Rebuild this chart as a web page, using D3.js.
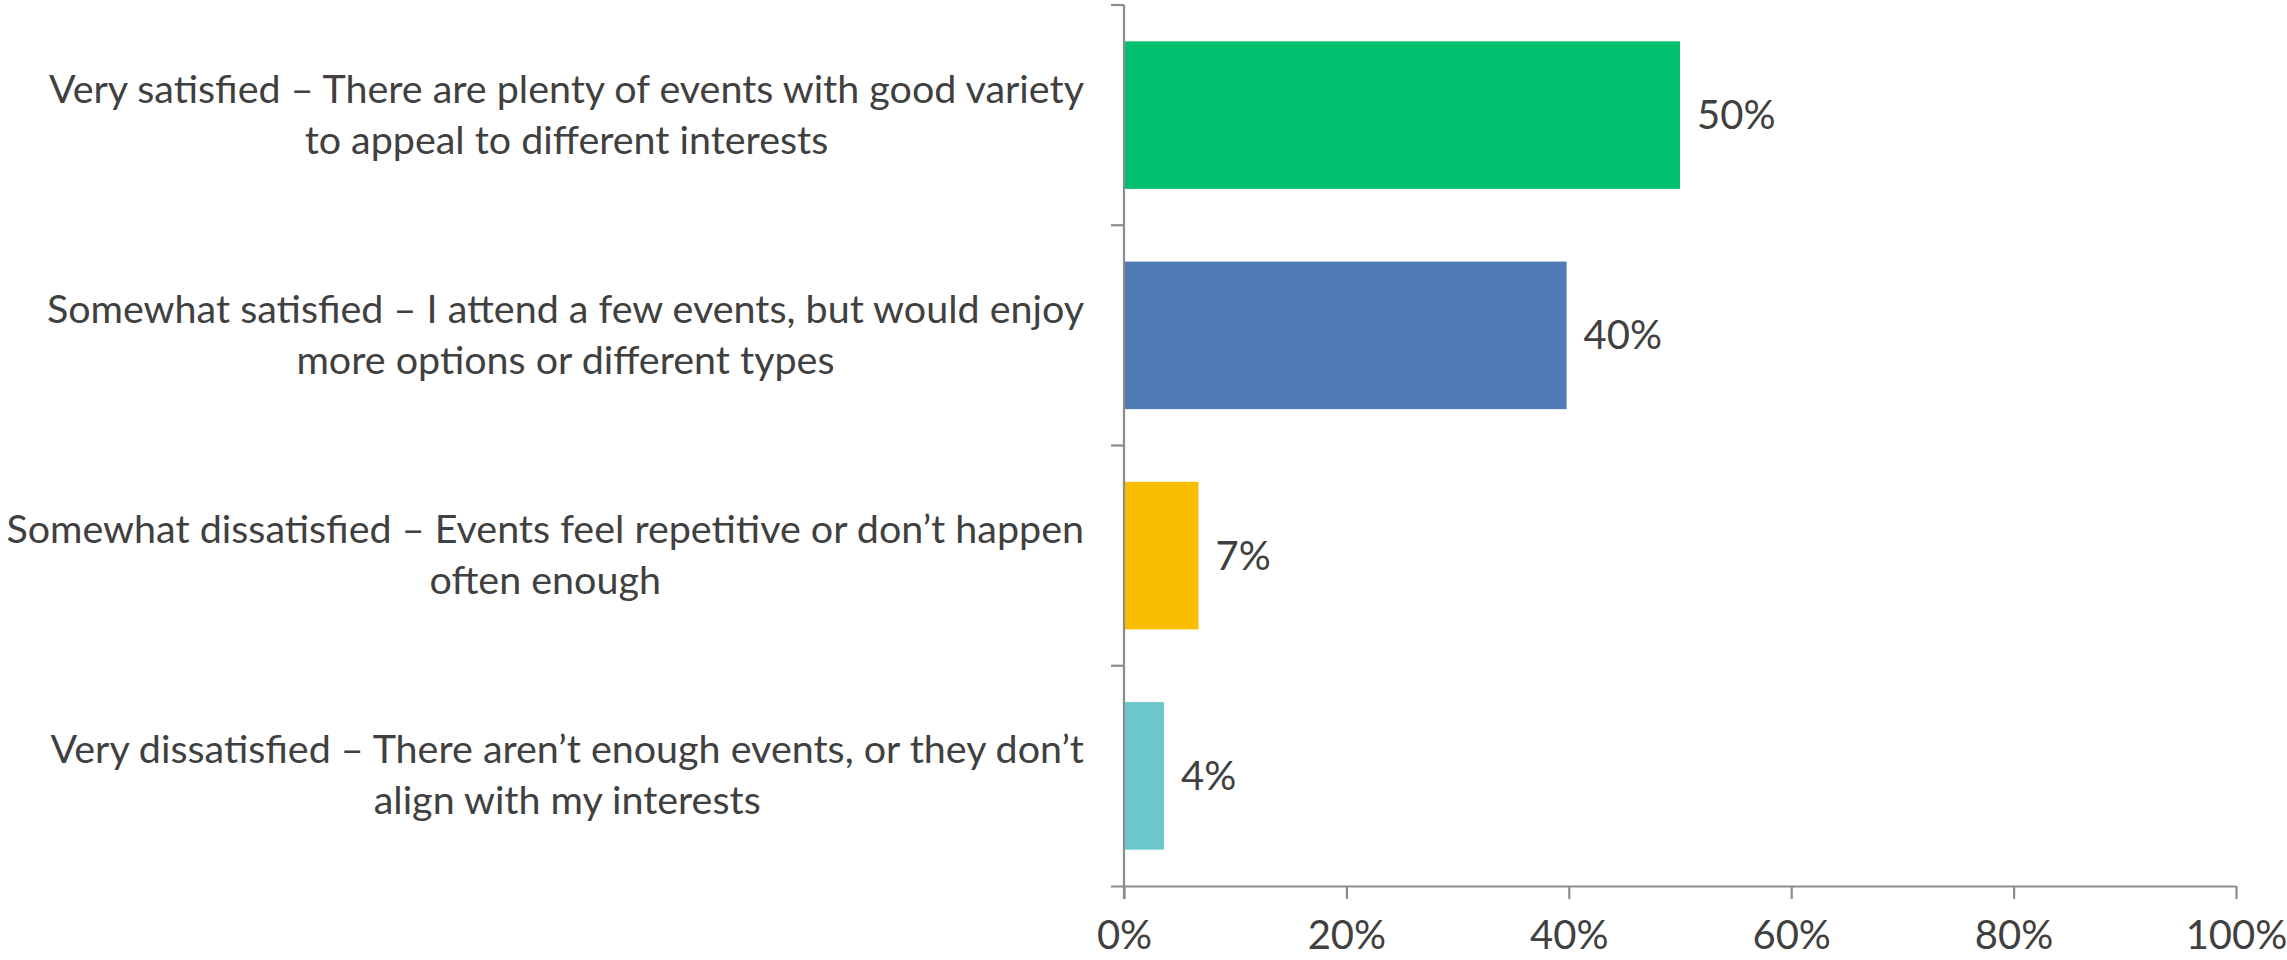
<!DOCTYPE html>
<html>
<head>
<meta charset="utf-8">
<script src="https://cdn.jsdelivr.net/npm/d3@7"></script>
<style>
  html, body { margin: 0; padding: 0; background: #fff; }
  svg text { font-family: Lato, "Open Sans", sans-serif; fill: #404040; }
</style>
</head>
<body>
<svg id="chart" width="2287" height="960"></svg>
<script>
// Survey answers, top to bottom; each entry is a list of label lines
const categories = [
  ["Very satisfied \u2013 There are plenty of events with good variety", "to appeal to different interests"],
  ["Somewhat satisfied \u2013 I attend a few events, but would enjoy", "more options or different types"],
  ["Somewhat dissatisfied \u2013 Events feel repetitive or don\u2019t happen", "often enough"],
  ["Very dissatisfied \u2013 There aren\u2019t enough events, or they don\u2019t", "align with my interests"]
];
// Share of respondents (fraction of total)
const shares = [0.500, 0.398, 0.067, 0.036];
const barColors = ["#00BF6F", "#507CB6", "#F9BE00", "#6CC8CC"];
const xTicks = [0, 0.2, 0.4, 0.6, 0.8, 1.0];

(function () {
const svg = d3.select("#chart");
const plotLeft = 1124, plotRight = 2236, plotTop = 5, plotBottom = 886;
const axisColor = "#8C8C8C";
const fontSize = 40;

const x = d3.scaleLinear().domain([0, 1]).range([plotLeft, plotRight]);
const y = d3.scaleBand().domain(d3.range(categories.length)).range([plotTop, plotBottom])
  .paddingInner(0.33).paddingOuter(0.165);
const yBand = d3.scaleBand().domain(d3.range(categories.length)).range([plotTop, plotBottom]);

// bars
svg.append("g").selectAll("rect").data(shares).join("rect")
  .attr("x", x(0))
  .attr("y", (d, i) => y(i))
  .attr("width", d => x(d) - x(0))
  .attr("height", y.bandwidth())
  .attr("fill", (d, i) => barColors[i]);

// value labels
const pct = d3.format(".0%");
svg.append("g").selectAll("text").data(shares).join("text")
  .attr("x", d => x(d) + 17)
  .attr("y", (d, i) => y(i) + y.bandwidth() / 2 + 14)
  .attr("font-size", fontSize)
  .text(d => pct(d));

// x axis
const xAxis = d3.axisBottom(x).tickValues(xTicks).tickFormat(pct)
  .tickSize(13).tickSizeOuter(0).tickPadding(22);
const gx = svg.append("g").attr("transform", `translate(0,${plotBottom})`).call(xAxis);
gx.select(".domain").attr("stroke", axisColor).attr("stroke-width", 2.2)
  .attr("d", `M${plotLeft - 13},0.5H${plotRight}`);
gx.selectAll(".tick line").attr("stroke", axisColor).attr("stroke-width", 2.2);
gx.selectAll(".tick text").attr("font-size", fontSize).attr("fill", "#404040")
  .attr("font-family", "Lato, 'Open Sans', sans-serif");

// y axis: category boundary ticks on the left
const yLine = svg.append("g");
yLine.append("line").attr("x1", plotLeft).attr("x2", plotLeft).attr("y1", plotTop).attr("y2", plotBottom + 13)
  .attr("stroke", axisColor).attr("stroke-width", 2.2);
const bounds = d3.range(categories.length).map(i => yBand(i));
yLine.selectAll("line.tk").data(bounds).join("line").attr("class", "tk")
  .attr("x1", plotLeft - 13).attr("x2", plotLeft)
  .attr("y1", d => d).attr("y2", d => d)
  .attr("stroke", axisColor).attr("stroke-width", 2.2);

// category labels: block right-aligned to the axis, lines centred within the block;
// the size is reduced if needed so the widest line fits the space left of the axis
const labelRight = 1084;
const labelSpace = 1078;
const lineGap = 51;
const labels = svg.append("g");
const groups = categories.map((lines, i) => {
  const g = labels.append("g");
  const cy = yBand(i) + yBand.bandwidth() / 2;
  const texts = lines.map((s, k) => g.append("text")
    .attr("font-size", fontSize)
    .attr("text-anchor", "middle")
    .attr("y", cy + 13 + (k - (lines.length - 1) / 2) * lineGap)
    .text(s));
  return texts;
});
const widest = d3.max(groups.flat(), t => t.node().getComputedTextLength());
const labelSize = fontSize * Math.min(1, labelSpace / widest);
groups.forEach(texts => {
  texts.forEach(t => t.attr("font-size", labelSize));
  const w = d3.max(texts, t => t.node().getComputedTextLength());
  texts.forEach(t => t.attr("x", labelRight - w / 2));
});
})();
</script>
</body>
</html>
